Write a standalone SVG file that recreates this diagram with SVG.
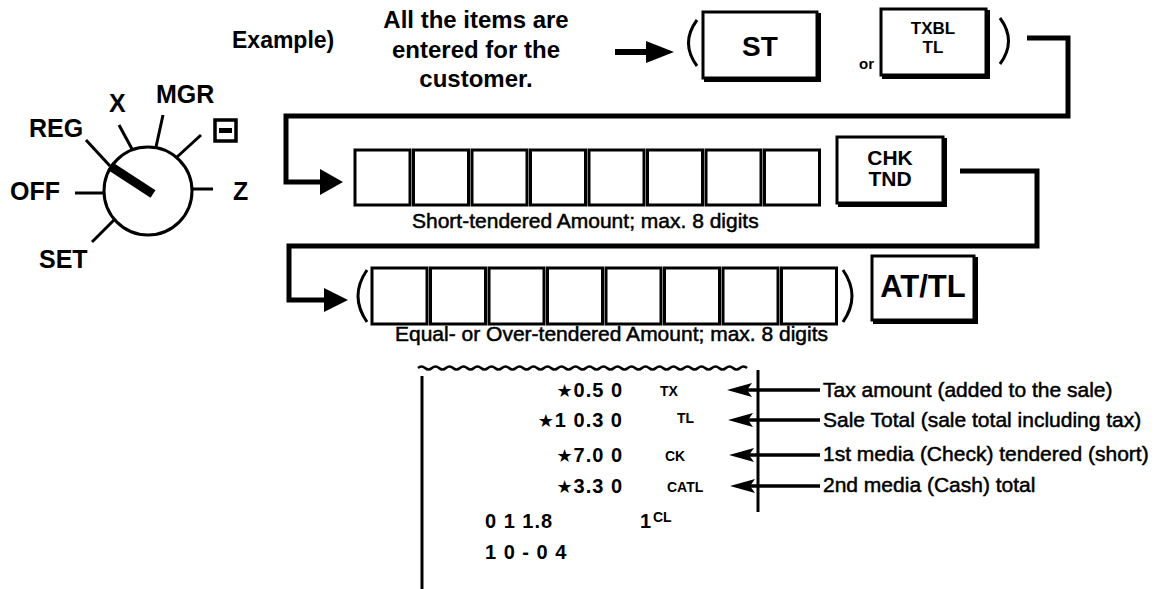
<svg xmlns="http://www.w3.org/2000/svg" width="1155" height="589" viewBox="0 0 1155 589">
<style>
text{font-family:"Liberation Sans",Arial,sans-serif;fill:#000}
.b{font-weight:bold}
.med{stroke:#000;stroke-width:0.5}
.box{fill:none;stroke:#000;stroke-width:3}
.key{fill:#fff;stroke:#000;stroke-width:3}
.sh{fill:none;stroke:#000;stroke-width:5}
.conn{fill:none;stroke:#000;stroke-width:5;stroke-linejoin:miter}
.thin{fill:none;stroke:#000;stroke-width:3}
.par{fill:none;stroke:#000;stroke-width:3}
.rc{font-weight:bold;font-size:20px;letter-spacing:1px}
.rs{font-weight:bold;font-size:14px}
.star{font-family:"DejaVu Sans",sans-serif;font-size:18px}
.ann{font-size:21px}
</style>

<g id="dial">
  <circle cx="148" cy="191" r="44" fill="none" stroke="#000" stroke-width="3"/>
  <line x1="86" y1="140" x2="110" y2="166" class="thin"/>
  <line x1="110" y1="166" x2="153" y2="194" stroke="#000" stroke-width="9"/>
  <line x1="119" y1="125" x2="132" y2="149" class="thin"/>
  <line x1="163" y1="115" x2="156" y2="147" class="thin"/>
  <line x1="201" y1="135" x2="177" y2="157" class="thin"/>
  <line x1="192" y1="189" x2="213" y2="189" class="thin"/>
  <line x1="75" y1="193" x2="104" y2="193" class="thin"/>
  <line x1="92" y1="242" x2="114" y2="220" class="thin"/>
  <text x="29" y="137" class="b" font-size="25">REG</text>
  <text x="109" y="112" class="b" font-size="25">X</text>
  <text x="156" y="103" class="b" font-size="25">MGR</text>
  <text x="10" y="200" class="b" font-size="25">OFF</text>
  <text x="233" y="200" class="b" font-size="25">Z</text>
  <text x="39" y="268" class="b" font-size="25">SET</text>
  <rect x="215" y="120" width="21" height="21" fill="none" stroke="#000" stroke-width="3.5"/>
  <rect x="219" y="128" width="13" height="5" fill="#000"/>
</g>

<g id="example">
  <text x="232" y="48" class="b" font-size="23">Example)</text>
</g>

<g id="note" text-anchor="middle" class="b" font-size="24">
  <text x="476" y="28">All the items are</text>
  <text x="476" y="58">entered for the</text>
  <text x="476" y="87">customer.</text>
</g>

<g id="key-st">
  <rect x="703" y="12" width="114" height="66" class="key"/>
  <path d="M818.5 13 V79.5 H704" class="sh"/>
  <text x="760" y="56" class="b" font-size="28" text-anchor="middle">ST</text>
</g>

<g id="or-label">
  <text x="859" y="69" class="b" font-size="15">or</text>
</g>

<g id="key-txbl">
  <rect x="881" y="9" width="105" height="66" class="key"/>
  <path d="M987.5 10 V76.5 H882" class="sh"/>
  <text x="933" y="34" class="b" font-size="17" text-anchor="middle">TXBL</text>
  <text x="933" y="53" class="b" font-size="17" text-anchor="middle">TL</text>
</g>

<g id="row2-boxes">
  <rect x="355" y="150" width="55" height="55" class="box"/>
  <rect x="413.5" y="150" width="55" height="55" class="box"/>
  <rect x="472" y="150" width="55" height="55" class="box"/>
  <rect x="530.5" y="150" width="55" height="55" class="box"/>
  <rect x="589" y="150" width="55" height="55" class="box"/>
  <rect x="647.5" y="150" width="55" height="55" class="box"/>
  <rect x="706" y="150" width="55" height="55" class="box"/>
  <rect x="764.5" y="150" width="55" height="55" class="box"/>
  <text x="412" y="228" class="ann med">Short-tendered Amount; max. 8 digits</text>
</g>

<g id="key-chk">
  <rect x="837" y="137" width="106" height="66" class="key"/>
  <path d="M944.5 138 V204.5 H838" class="sh"/>
  <text x="890" y="165" class="b" font-size="21" text-anchor="middle">CHK</text>
  <text x="890" y="186" class="b" font-size="21" text-anchor="middle">TND</text>
</g>

<g id="row3-boxes">
  <path d="M367 270 Q349 296 367 322" class="par"/>
  <rect x="372" y="268" width="55" height="56" class="box"/>
  <rect x="430.5" y="268" width="55" height="56" class="box"/>
  <rect x="489" y="268" width="55" height="56" class="box"/>
  <rect x="547.5" y="268" width="55" height="56" class="box"/>
  <rect x="606" y="268" width="55" height="56" class="box"/>
  <rect x="664.5" y="268" width="55" height="56" class="box"/>
  <rect x="723" y="268" width="55" height="56" class="box"/>
  <rect x="781.5" y="268" width="55" height="56" class="box"/>
  <path d="M843 270 Q861 296 843 322" class="par"/>
  <text x="395" y="341" class="ann med">Equal- or Over-tendered Amount; max. 8 digits</text>
</g>

<g id="key-attl">
  <rect x="872" y="256" width="102" height="64" class="key"/>
  <path d="M975.5 257 V321.5 H873" class="sh"/>
  <text x="923" y="297" class="b" font-size="31" text-anchor="middle">AT/TL</text>
</g>

<g id="connectors">
  <line x1="615" y1="52" x2="648" y2="52" stroke="#000" stroke-width="6"/>
  <polygon points="646,41 674,52 646,63" fill="#000"/>
  <path d="M697 20 Q680 43 697 66" class="par"/>
  <path d="M1000 18 Q1017 41 1000 64" class="par"/>
  <polyline points="1027,38 1068,38 1068,116 286,116 286,182 322,182" class="conn"/>
  <polygon points="320,169 343,182 320,195" fill="#000"/>
  <polyline points="960,171 1037,171 1037,246 289,246 289,300 326,300" class="conn"/>
  <polygon points="324,288 348,300 324,312" fill="#000"/>
</g>

<g id="receipt">
  <path d="M418 368 q3.5 -3 7 0 t7 0 t7 0 t7 0 t7 0 t7 0 t7 0 t7 0 t7 0 t7 0 t7 0 t7 0 t7 0 t7 0 t7 0 t7 0 t7 0 t7 0 t7 0 t7 0 t7 0 t7 0 t7 0 t7 0 t7 0 t7 0 t7 0 t7 0 t7 0 t7 0 t7 0 t7 0 t7 0 t7 0 t7 0 t7 0 t7 0 t7 0 t7 0 t7 0 t7 0 t7 0 t7 0 t7 0 t7 0 t7 0 t7 0" fill="none" stroke="#000" stroke-width="2.5"/>
  <line x1="422" y1="376" x2="422" y2="589" stroke="#000" stroke-width="3"/>
  <text x="623" y="397" class="rc" text-anchor="end"><tspan class="star">★</tspan>0.5 0</text>
  <text x="623" y="427" class="rc" text-anchor="end"><tspan class="star">★</tspan>1 0.3 0</text>
  <text x="623" y="462" class="rc" text-anchor="end"><tspan class="star">★</tspan>7.0 0</text>
  <text x="623" y="493" class="rc" text-anchor="end"><tspan class="star">★</tspan>3.3 0</text>
  <text x="485" y="528" class="rc">0 1 1.8</text>
  <text x="640" y="528" class="rc">1</text>
  <text x="485" y="559" class="rc" letter-spacing="2">1 0 - 0 4</text>
  <text x="660" y="396" class="rs">TX</text>
  <text x="677" y="423" class="rs">TL</text>
  <text x="665" y="461" class="rs">CK</text>
  <text x="667" y="492" class="rs">CATL</text>
  <text x="653" y="522" class="rs">CL</text>
</g>

<g id="annotations">
  <line x1="758" y1="370" x2="758" y2="512" stroke="#000" stroke-width="3"/>
  <line x1="746" y1="390" x2="820" y2="390" stroke="#000" stroke-width="3.5"/>
  <polygon points="727,390 752,383 747,390 752,397" fill="#000"/>
  <line x1="746" y1="420" x2="820" y2="420" stroke="#000" stroke-width="3.5"/>
  <polygon points="728,420 753,413 748,420 753,427" fill="#000"/>
  <line x1="746" y1="455" x2="820" y2="455" stroke="#000" stroke-width="3.5"/>
  <polygon points="729,455 754,448 749,455 754,462" fill="#000"/>
  <line x1="746" y1="486" x2="820" y2="486" stroke="#000" stroke-width="3.5"/>
  <polygon points="730,486 755,479 750,486 755,493" fill="#000"/>
  <text x="823" y="397" class="ann med">Tax amount (added to the sale)</text>
  <text x="823" y="427" class="ann med">Sale Total (sale total including tax)</text>
  <text x="823" y="461" class="ann med">1st media (Check) tendered (short)</text>
  <text x="823" y="492" class="ann med">2nd media (Cash) total</text>
</g>
</svg>
